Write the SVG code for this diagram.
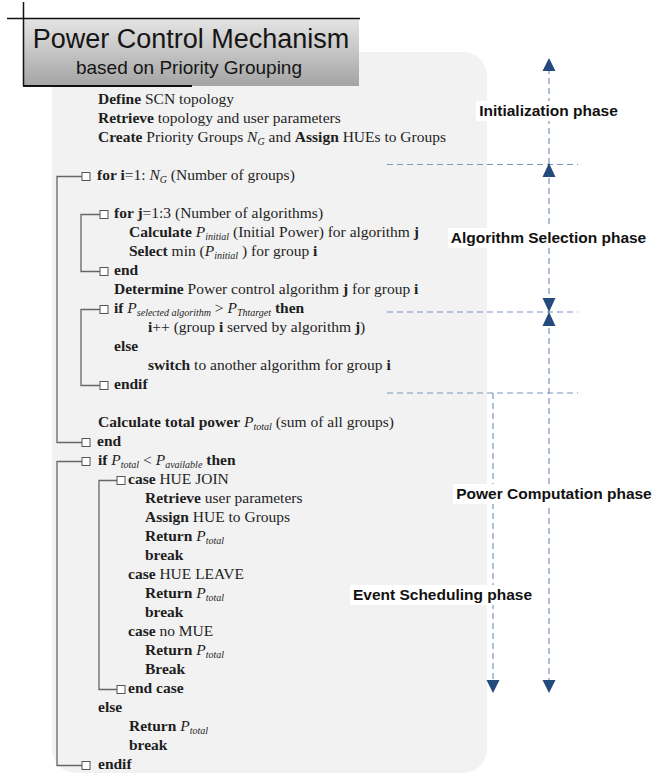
<svg xmlns="http://www.w3.org/2000/svg" width="656" height="774" viewBox="0 0 656 774">
<style>
.t{font-family:"Liberation Serif","Times New Roman",serif;font-size:15.5px;fill:#1e1e1e}
.b{font-weight:bold}
.i{font-style:italic}
.s{font-style:italic;font-size:10px}
.ph{font-family:"Liberation Sans",Arial,sans-serif;font-weight:bold;font-size:15.5px;fill:#111;text-anchor:middle}
.br{fill:none;stroke:#666;stroke-width:1.3}
.bx{fill:#fff;stroke:#555;stroke-width:1}
.dl{fill:none;stroke:#7a96c4;stroke-width:1.2;stroke-dasharray:6 4}
.ah{fill:#24497d}
.lb{fill:#fff}
</style>
<defs>
<linearGradient id="tg" x1="0" y1="0" x2="0" y2="1">
<stop offset="0" stop-color="#e4e4e4"/>
<stop offset="1" stop-color="#a4a4a4"/>
</linearGradient>
</defs>
<rect id="panel" x="52" y="52" width="435" height="721" rx="24" fill="#f2f2f2"/>
<g id="connectors">
<path class="dl" d="M387,164.5 H578 M387,312 H578 M387,393 H578"/>
<path class="dl" d="M549,68 V684 M493,393 V684"/>
<polygon class="ah" points="549,58 542.5,71 555.5,71"/>
<polygon class="ah" points="549,163 542.5,177 555.5,177"/>
<polygon class="ah" points="549,312 542.5,298 555.5,298"/>
<polygon class="ah" points="549,312 542.5,326 555.5,326"/>
<polygon class="ah" points="549,693 542.5,680 555.5,680"/>
<polygon class="ah" points="493,693 486.5,680 499.5,680"/>
</g>
<g id="brackets">
<path class="br" d="M82,176.5 H57 V442.5 H82"/>
<path class="br" d="M100,214.5 H81 V271.5 H100"/>
<path class="br" d="M100,309.5 H81 V385.5 H100"/>
<path class="br" d="M82,461.5 H57 V765.5 H82"/>
<path class="br" d="M117,480.5 H99 V689.5 H117"/>
<rect class="bx" x="82" y="172.5" width="8" height="8"/>
<rect class="bx" x="82" y="438.5" width="8" height="8"/>
<rect class="bx" x="100" y="210.5" width="8" height="8"/>
<rect class="bx" x="100" y="267.5" width="8" height="8"/>
<rect class="bx" x="100" y="305.5" width="8" height="8"/>
<rect class="bx" x="100" y="381.5" width="8" height="8"/>
<rect class="bx" x="82" y="457.5" width="8" height="8"/>
<rect class="bx" x="82" y="761.5" width="8" height="8"/>
<rect class="bx" x="117" y="476.5" width="8" height="8"/>
<rect class="bx" x="117" y="685.5" width="8" height="8"/>
</g>
<g id="code" class="t">
<text x="98" y="103.5"><tspan class="b">Define</tspan> SCN topology</text>
<text x="98" y="122.5"><tspan class="b">Retrieve</tspan> topology and user parameters</text>
<text x="98" y="141.5"><tspan class="b">Create</tspan> Priority Groups <tspan class="i">N</tspan><tspan class="s" dy="3.5">G</tspan><tspan dy="-3.5"> and </tspan><tspan class="b">Assign</tspan> HUEs to Groups</text>
<text x="97" y="179.5"><tspan class="b">for i</tspan>=1: <tspan class="i">N</tspan><tspan class="s" dy="3.5">G</tspan><tspan dy="-3.5"> (Number of groups)</tspan></text>
<text x="114" y="217.5"><tspan class="b">for j</tspan>=1:3 (Number of algorithms)</text>
<text x="129" y="236.5"><tspan class="b">Calculate</tspan> <tspan class="i">P</tspan><tspan class="s" dy="3.5">initial</tspan><tspan dy="-3.5"> (Initial Power) for algorithm </tspan><tspan class="b">j</tspan></text>
<text x="129" y="255.5"><tspan class="b">Select</tspan> min (<tspan class="i">P</tspan><tspan class="s" dy="3.5">initial</tspan><tspan dy="-3.5"> ) for group </tspan><tspan class="b">i</tspan></text>
<text x="114" y="274.5" class="b">end</text>
<text x="114" y="293.5"><tspan class="b">Determine</tspan> Power control algorithm <tspan class="b">j</tspan> for group <tspan class="b">i</tspan></text>
<text x="114" y="312.5"><tspan class="b">if</tspan> <tspan class="i">P</tspan><tspan class="s" dy="3.5">selected algorithm</tspan><tspan dy="-3.5"> &gt; </tspan><tspan class="i">P</tspan><tspan class="s" dy="3.5">Thtarget</tspan><tspan class="b" dy="-3.5"> then</tspan></text>
<text x="148" y="331.5"><tspan class="b">i</tspan>++ (group <tspan class="b">i</tspan> served by algorithm <tspan class="b">j</tspan>)</text>
<text x="114" y="350.5" class="b">else</text>
<text x="148" y="369.5"><tspan class="b">switch</tspan> to another algorithm for group <tspan class="b">i</tspan></text>
<text x="114" y="388.5" class="b">endif</text>
<text x="98" y="426.5"><tspan class="b">Calculate total power</tspan> <tspan class="i">P</tspan><tspan class="s" dy="3.5">total</tspan><tspan dy="-3.5"> (sum of all groups)</tspan></text>
<text x="97" y="445.5" class="b">end</text>
<text x="98" y="464.5"><tspan class="b">if</tspan> <tspan class="i">P</tspan><tspan class="s" dy="3.5">total</tspan><tspan dy="-3.5"> &lt; </tspan><tspan class="i">P</tspan><tspan class="s" dy="3.5">available</tspan><tspan class="b" dy="-3.5">  then</tspan></text>
<text x="128" y="483.5"><tspan class="b">case</tspan> HUE JOIN</text>
<text x="145" y="502.5"><tspan class="b">Retrieve</tspan> user parameters</text>
<text x="145" y="521.5"><tspan class="b">Assign</tspan> HUE to Groups</text>
<text x="145" y="540.5"><tspan class="b">Return</tspan> <tspan class="i">P</tspan><tspan class="s" dy="3.5">total</tspan></text>
<text x="145" y="559.5" class="b">break</text>
<text x="128" y="578.5"><tspan class="b">case</tspan> HUE LEAVE</text>
<text x="145" y="597.5"><tspan class="b">Return</tspan> <tspan class="i">P</tspan><tspan class="s" dy="3.5">total</tspan></text>
<text x="145" y="616.5" class="b">break</text>
<text x="128" y="635.5"><tspan class="b">case</tspan> no MUE</text>
<text x="145" y="654.5"><tspan class="b">Return</tspan> <tspan class="i">P</tspan><tspan class="s" dy="3.5">total</tspan></text>
<text x="145" y="673.5" class="b">Break</text>
<text x="128" y="692.5" class="b">end case</text>
<text x="98" y="711.5" class="b">else</text>
<text x="129" y="730.5"><tspan class="b">Return</tspan> <tspan class="i">P</tspan><tspan class="s" dy="3.5">total</tspan></text>
<text x="129" y="749.5" class="b">break</text>
<text x="98" y="768.5" class="b">endif</text>
</g>
<g id="phase-init">
<rect class="lb" x="476" y="101" width="145" height="20"/>
<text class="ph" x="548.5" y="116">Initialization phase</text>
</g>
<g id="phase-algo">
<rect class="lb" x="448" y="228" width="201" height="20"/>
<text class="ph" x="548.5" y="243">Algorithm Selection phase</text>
</g>
<g id="phase-power">
<rect class="lb" x="453" y="484" width="202" height="20"/>
<text class="ph" x="554" y="499">Power Computation phase</text>
</g>
<g id="phase-event">
<rect class="lb" x="350" y="585" width="185" height="20"/>
<text class="ph" x="442.5" y="600">Event Scheduling phase</text>
</g>
<g id="title">
<rect x="23" y="19" width="336" height="67" fill="url(#tg)"/>
<path d="M7,18.5 H360 M23.5,2 V86" stroke="#111" stroke-width="1.5" fill="none"/>
<path d="M23,86 H192" stroke="#111" stroke-width="2" fill="none"/>
<text x="191" y="48" text-anchor="middle" font-family="Liberation Sans, Arial, sans-serif" font-size="27" fill="#151515">Power Control Mechanism</text>
<text x="189" y="74" text-anchor="middle" font-family="Liberation Sans, Arial, sans-serif" font-size="19" fill="#151515">based on Priority Grouping</text>
</g>
</svg>
